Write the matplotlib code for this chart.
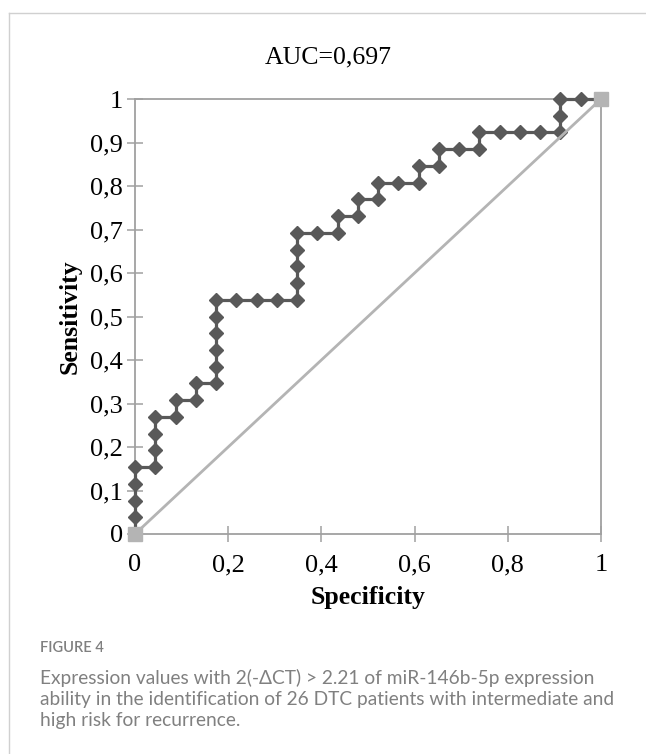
import matplotlib
matplotlib.use('Agg')
import matplotlib.pyplot as plt
from matplotlib.lines import Line2D

# ROC points (1 - specificity steps of 1/23, sensitivity steps of 1/26)
SPEC = [0, 0, 0, 0, 0,
        1, 1, 1, 1,
        2, 2,
        3, 3,
        4, 4, 4, 4, 4, 4,
        5, 6, 7,
        8, 8, 8, 8, 8,
        9, 10, 10, 11, 11, 12, 12, 13,
        14, 14, 15, 15, 16,
        17, 17, 18, 19, 20,
        21, 21, 21, 22, 23]
SENS = [0, 1, 2, 3, 4,
        4, 5, 6, 7,
        7, 8,
        8, 9,
        9, 10, 11, 12, 13, 14,
        14, 14, 14,
        14, 15, 16, 17, 18,
        18, 18, 19, 19, 20, 20, 21, 21,
        21, 22, 22, 23, 23,
        23, 24, 24, 24, 24,
        24, 25, 26, 26, 26]
N_SPEC = 23
N_SENS = 26

DIAG_X = [0, 1]
DIAG_Y = [0, 1]

TICKS = [0, 0.2, 0.4, 0.6, 0.8, 1]
TICK_LABELS = ['0', '0,2', '0,4', '0,6', '0,8', '1']
YTICKS = [0, 0.1, 0.2, 0.3, 0.4, 0.5, 0.6, 0.7, 0.8, 0.9, 1]
YTICK_LABELS = ['0', '0,1', '0,2', '0,3', '0,4', '0,5', '0,6', '0,7', '0,8', '0,9', '1']

CAPTION = ['Expression values with 2(-\u0394CT) > 2.21 of miR-146b-5p expression',
           'ability in the identification of 26 DTC patients with intermediate and',
           'high risk for recurrence.']

x = [s / N_SPEC for s in SPEC]
y = [s / N_SENS for s in SENS]

W, H = 646, 754
fig = plt.figure(figsize=(W / 100, H / 100), dpi=100)
ax = fig.add_axes([135 / W, 1 - 534 / H, 466 / W, 435 / H])

serif = 'Liberation Serif'
ax.plot(x, y, color='#595959', lw=2.3, marker='D', ms=6.8, zorder=3, clip_on=False)
ax.plot(DIAG_X, DIAG_Y, color='#b4b4b4', lw=2.0, marker='s', ms=9.4, zorder=4, clip_on=False)

ax.set_xlim(0, 1)
ax.set_ylim(0, 1)
ax.set_xticks(TICKS)
ax.set_xticklabels(TICK_LABELS, fontfamily=serif, fontsize=19)
ax.set_yticks(YTICKS)
ax.set_yticklabels(YTICK_LABELS, fontfamily=serif, fontsize=19)
ax.tick_params(direction='inout', length=11, width=1.1, color='#a0a0a0', pad=3)
ax.tick_params(axis='x', pad=9)
for sp in ax.spines.values():
    sp.set_color('#a0a0a0')
    sp.set_linewidth(1.3)

# Excel centres the title over the whole chart area
fig.text(328 / W, 1 - 57 / H, 'AUC=0,697', fontfamily=serif, fontsize=18.5,
         ha='center', va='center')
ax.set_xlabel('Specificity', fontfamily=serif, fontsize=18.5, fontweight='bold', labelpad=7)
ax.set_ylabel('Sensitivity', fontfamily=serif, fontsize=18.5, fontweight='bold', labelpad=6)

# page frame
fig.add_artist(Line2D([9 / W, 9 / W], [0, 1 - 13 / H], color='#d0d0d0', lw=1))
fig.add_artist(Line2D([9 / W, 1], [1 - 13 / H, 1 - 13 / H], color='#d0d0d0', lw=1))

cap_font = 'Lato'
fig.text(40 / W, 1 - 652 / H, 'FIGURE 4', fontfamily=cap_font, fontsize=10.5,
         fontweight='semibold', color='#808080', va='baseline')
for i, line in enumerate(CAPTION):
    fig.text(40 / W, 1 - (684 + 21 * i) / H, line, fontfamily=cap_font, fontsize=13.75,
             color='#808080', va='baseline')

fig.savefig('out.png', dpi=100)
